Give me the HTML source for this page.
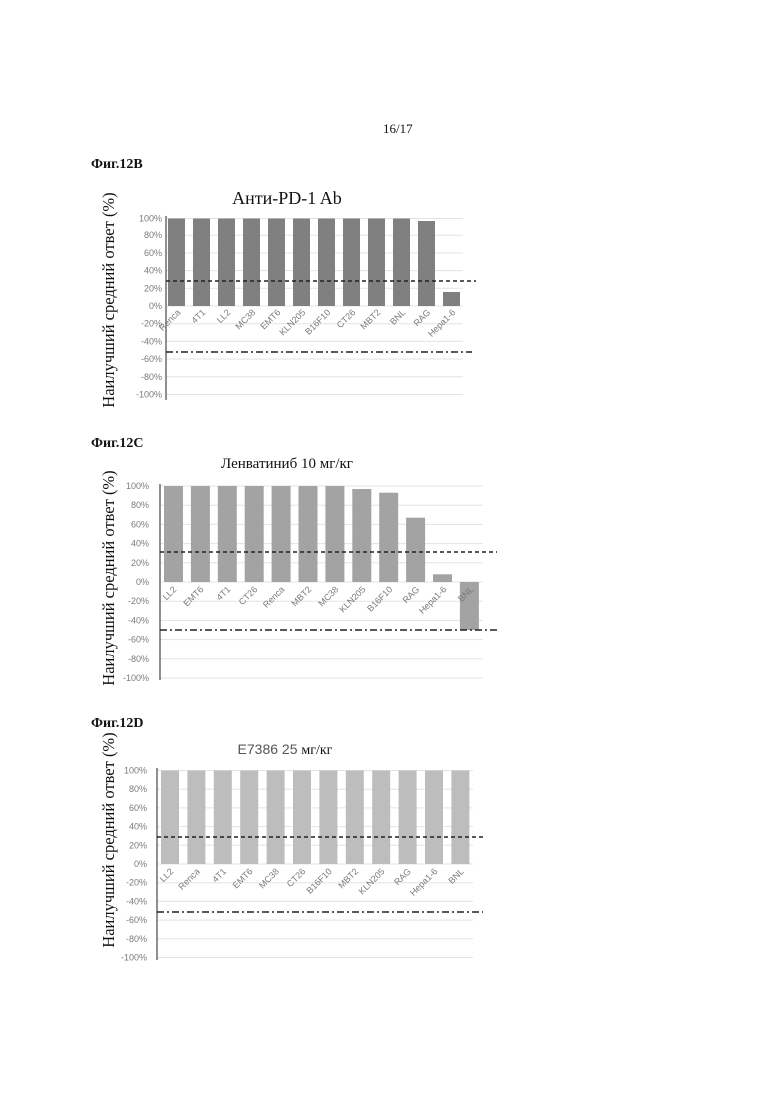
<!DOCTYPE html>
<html><head><meta charset="utf-8"><style>
html,body{margin:0;padding:0;background:#fff;}
svg{display:block;}
.t{font-family:"Liberation Sans","DejaVu Sans",sans-serif;font-size:9px;fill:#7a7a7a;}
.s{font-family:"Liberation Serif","Noto Serif CJK SC",serif;fill:#111;}
.g{stroke:#e3e3e3;stroke-width:1;}
.d{stroke:#222;stroke-width:1.6;stroke-dasharray:4 3;}
.dd{stroke:#222;stroke-width:1.4;stroke-dasharray:7 3 2 3;}
</style></head><body>
<svg width="780" height="1103" viewBox="0 0 780 1103" xmlns="http://www.w3.org/2000/svg">
<text x="383" y="133" class="s" font-size="13">16/17</text>

<!-- Chart B -->
<text x="91" y="168" class="s" font-size="14" font-weight="bold">Фиг.12B</text>
<text x="287" y="204" class="s" font-size="18" text-anchor="middle">Анти-PD-1 Ab</text>
<text transform="translate(114,300) rotate(-90)" class="s" font-size="16.5" text-anchor="middle">Наилучший средний ответ (%)</text>
<g class="g">
<line x1="166" x2="463" y1="218.5" y2="218.5"/><line x1="166" x2="463" y1="235.2" y2="235.2"/><line x1="166" x2="463" y1="252.9" y2="252.9"/><line x1="166" x2="463" y1="270.6" y2="270.6"/><line x1="166" x2="463" y1="288.3" y2="288.3"/><line x1="166" x2="463" y1="306" y2="306"/><line x1="166" x2="463" y1="323.7" y2="323.7"/><line x1="166" x2="463" y1="341.4" y2="341.4"/><line x1="166" x2="463" y1="359.1" y2="359.1"/><line x1="166" x2="463" y1="376.8" y2="376.8"/><line x1="166" x2="463" y1="394.5" y2="394.5"/>
</g>
<g class="t" text-anchor="end">
<text x="162" y="221.5">100%</text><text x="162" y="238.2">80%</text><text x="162" y="255.9">60%</text><text x="162" y="273.6">40%</text><text x="162" y="291.3">20%</text><text x="162" y="309">0%</text><text x="162" y="326.7">-20%</text><text x="162" y="344.4">-40%</text><text x="162" y="362.1">-60%</text><text x="162" y="379.8">-80%</text><text x="162" y="397.5">-100%</text>
</g>
<g fill="#808080">
<rect x="168" y="218.5" width="17" height="87.5"/><rect x="193" y="218.5" width="17" height="87.5"/><rect x="218" y="218.5" width="17" height="87.5"/><rect x="243" y="218.5" width="17" height="87.5"/><rect x="268" y="218.5" width="17" height="87.5"/><rect x="293" y="218.5" width="17" height="87.5"/><rect x="318" y="218.5" width="17" height="87.5"/><rect x="343" y="218.5" width="17" height="87.5"/><rect x="368" y="218.5" width="17" height="87.5"/><rect x="393" y="218.5" width="17" height="87.5"/><rect x="418" y="221" width="17" height="85"/><rect x="443" y="292" width="17" height="14"/>
</g>
<line x1="166" x2="166" y1="216" y2="400" stroke="#555" stroke-width="1.3"/>
<g class="t" text-anchor="end">
<text transform="translate(181,313) rotate(-45)">Renca</text><text transform="translate(206,313) rotate(-45)">4T1</text><text transform="translate(231,313) rotate(-45)">LL2</text><text transform="translate(256,313) rotate(-45)">MC38</text><text transform="translate(281,313) rotate(-45)">EMT6</text><text transform="translate(306,313) rotate(-45)">KLN205</text><text transform="translate(331,313) rotate(-45)">B16F10</text><text transform="translate(356,313) rotate(-45)">CT26</text><text transform="translate(381,313) rotate(-45)">MBT2</text><text transform="translate(406,313) rotate(-45)">BNL</text><text transform="translate(431,313) rotate(-45)">RAG</text><text transform="translate(456,313) rotate(-45)">Hepa1-6</text>
</g>
<line x1="166" x2="476" y1="281" y2="281" class="d"/>
<line x1="166" x2="472" y1="352" y2="352" class="dd"/>

<!-- Chart C -->
<text x="91" y="447" class="s" font-size="14" font-weight="bold">Фиг.12C</text>
<text x="287" y="468" class="s" font-size="15" text-anchor="middle">Ленватиниб 10 мг/кг</text>
<text transform="translate(114,578) rotate(-90)" class="s" font-size="16.5" text-anchor="middle">Наилучший средний ответ (%)</text>
<g class="g">
<line x1="160" x2="483" y1="486" y2="486"/><line x1="160" x2="483" y1="505.2" y2="505.2"/><line x1="160" x2="483" y1="524.4" y2="524.4"/><line x1="160" x2="483" y1="543.6" y2="543.6"/><line x1="160" x2="483" y1="562.8" y2="562.8"/><line x1="160" x2="483" y1="582" y2="582"/><line x1="160" x2="483" y1="601.2" y2="601.2"/><line x1="160" x2="483" y1="620.4" y2="620.4"/><line x1="160" x2="483" y1="639.6" y2="639.6"/><line x1="160" x2="483" y1="658.8" y2="658.8"/><line x1="160" x2="483" y1="678" y2="678"/>
</g>
<g class="t" text-anchor="end">
<text x="149" y="489">100%</text><text x="149" y="508.2">80%</text><text x="149" y="527.4">60%</text><text x="149" y="546.6">40%</text><text x="149" y="565.8">20%</text><text x="149" y="585">0%</text><text x="149" y="604.2">-20%</text><text x="149" y="623.4">-40%</text><text x="149" y="642.6">-60%</text><text x="149" y="661.8">-80%</text><text x="149" y="681">-100%</text>
</g>
<g fill="#a3a3a3">
<rect x="164" y="486" width="19" height="96"/><rect x="190.9" y="486" width="19" height="96"/><rect x="217.8" y="486" width="19" height="96"/><rect x="244.7" y="486" width="19" height="96"/><rect x="271.6" y="486" width="19" height="96"/><rect x="298.5" y="486" width="19" height="96"/><rect x="325.4" y="486" width="19" height="96"/><rect x="352.3" y="489" width="19" height="93"/><rect x="379.2" y="492.7" width="19" height="89.3"/><rect x="406.1" y="517.7" width="19" height="64.3"/><rect x="433" y="574.3" width="19" height="7.7"/><rect x="459.9" y="582" width="19" height="48"/>
</g>
<line x1="160" x2="160" y1="484" y2="680" stroke="#555" stroke-width="1.3"/>
<g class="t" text-anchor="end">
<text transform="translate(177,590) rotate(-45)">LL2</text><text transform="translate(204,590) rotate(-45)">EMT6</text><text transform="translate(231,590) rotate(-45)">4T1</text><text transform="translate(258,590) rotate(-45)">CT26</text><text transform="translate(285,590) rotate(-45)">Renca</text><text transform="translate(312,590) rotate(-45)">MBT2</text><text transform="translate(339,590) rotate(-45)">MC38</text><text transform="translate(366,590) rotate(-45)">KLN205</text><text transform="translate(393,590) rotate(-45)">B16F10</text><text transform="translate(420,590) rotate(-45)">RAG</text><text transform="translate(447,590) rotate(-45)">Hepa1-6</text><text transform="translate(474,590) rotate(-45)">BNL</text>
</g>
<line x1="160" x2="497" y1="552" y2="552" class="d"/>
<line x1="160" x2="497" y1="630" y2="630" class="dd"/>

<!-- Chart D -->
<text x="91" y="727" class="s" font-size="14" font-weight="bold">Фиг.12D</text>
<text x="285" y="754" class="s" font-size="14" text-anchor="middle"><tspan font-family="Liberation Sans, sans-serif" fill="#555">E7386 25 </tspan>мг/кг</text>
<text transform="translate(114,840) rotate(-90)" class="s" font-size="16.5" text-anchor="middle">Наилучший средний ответ (%)</text>
<g class="g">
<line x1="157" x2="473" y1="770.5" y2="770.5"/><line x1="157" x2="473" y1="789.2" y2="789.2"/><line x1="157" x2="473" y1="807.9" y2="807.9"/><line x1="157" x2="473" y1="826.6" y2="826.6"/><line x1="157" x2="473" y1="845.3" y2="845.3"/><line x1="157" x2="473" y1="864" y2="864"/><line x1="157" x2="473" y1="882.7" y2="882.7"/><line x1="157" x2="473" y1="901.4" y2="901.4"/><line x1="157" x2="473" y1="920.1" y2="920.1"/><line x1="157" x2="473" y1="938.8" y2="938.8"/><line x1="157" x2="473" y1="957.5" y2="957.5"/>
</g>
<g class="t" text-anchor="end">
<text x="147" y="773.5">100%</text><text x="147" y="792.2">80%</text><text x="147" y="810.9">60%</text><text x="147" y="829.6">40%</text><text x="147" y="848.3">20%</text><text x="147" y="867">0%</text><text x="147" y="885.7">-20%</text><text x="147" y="904.4">-40%</text><text x="147" y="923.1">-60%</text><text x="147" y="941.8">-80%</text><text x="147" y="960.5">-100%</text>
</g>
<g fill="#bdbdbd">
<rect x="161" y="770.5" width="18" height="93.5"/><rect x="187.4" y="770.5" width="18" height="93.5"/><rect x="213.8" y="770.5" width="18" height="93.5"/><rect x="240.2" y="770.5" width="18" height="93.5"/><rect x="266.6" y="770.5" width="18" height="93.5"/><rect x="293" y="770.5" width="18" height="93.5"/><rect x="319.4" y="770.5" width="18" height="93.5"/><rect x="345.8" y="770.5" width="18" height="93.5"/><rect x="372.2" y="770.5" width="18" height="93.5"/><rect x="398.6" y="770.5" width="18" height="93.5"/><rect x="425" y="770.5" width="18" height="93.5"/><rect x="451.4" y="770.5" width="18" height="93.5"/>
</g>
<line x1="157" x2="157" y1="768" y2="960" stroke="#555" stroke-width="1.3"/>
<g class="t" text-anchor="end">
<text transform="translate(174,872) rotate(-45)">LL2</text><text transform="translate(200.4,872) rotate(-45)">Renca</text><text transform="translate(226.8,872) rotate(-45)">4T1</text><text transform="translate(253.2,872) rotate(-45)">EMT6</text><text transform="translate(279.6,872) rotate(-45)">MC38</text><text transform="translate(306,872) rotate(-45)">CT26</text><text transform="translate(332.4,872) rotate(-45)">B16F10</text><text transform="translate(358.8,872) rotate(-45)">MBT2</text><text transform="translate(385.2,872) rotate(-45)">KLN205</text><text transform="translate(411.6,872) rotate(-45)">RAG</text><text transform="translate(438,872) rotate(-45)">Hepa1-6</text><text transform="translate(464.4,872) rotate(-45)">BNL</text>
</g>
<line x1="157" x2="483" y1="837" y2="837" class="d"/>
<line x1="157" x2="483" y1="912" y2="912" class="dd"/>
</svg>
</body></html>
